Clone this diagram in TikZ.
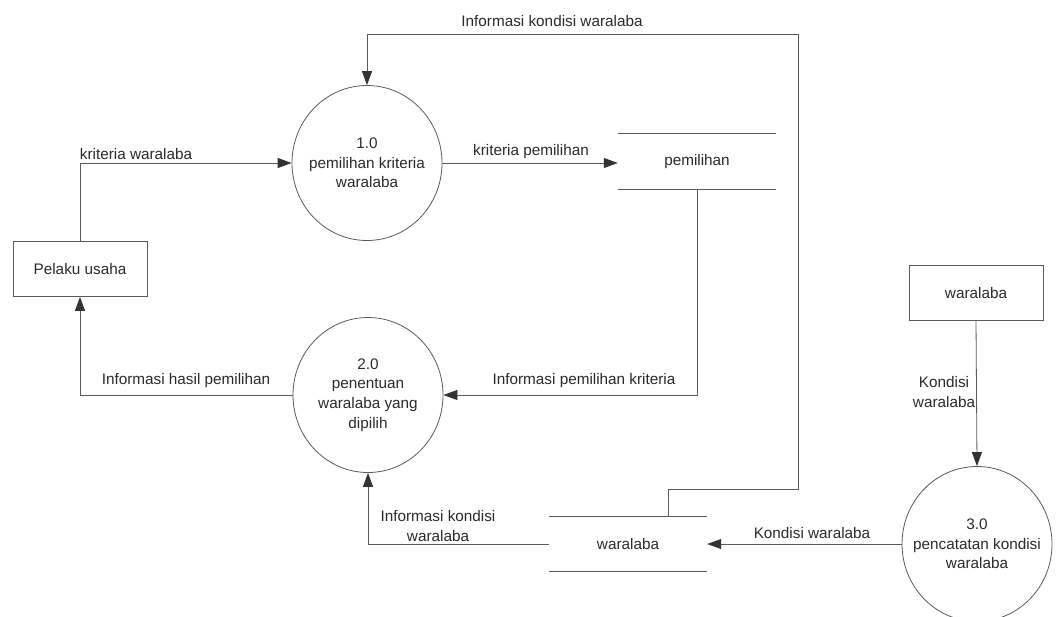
\documentclass[tikz,border=0pt]{standalone}
\usepackage{fontspec}
\setmainfont{Liberation Sans}
\usetikzlibrary{arrows.meta,shapes.geometric}
\definecolor{ink}{HTML}{2A2A2A}
\definecolor{wire}{HTML}{5A5A5A}
\definecolor{tip}{HTML}{333333}
\tikzset{
  txt/.style={font=\fontsize{15.3}{19.6}\selectfont, text=ink, inner sep=0pt, align=center},
  proc/.style={ellipse, draw=wire, line width=0.8pt, inner sep=0pt, minimum width=150pt, minimum height=155pt,
               label={[txt]center:#1}},
  entity/.style={txt, rectangle, draw=wire, line width=0.8pt, minimum width=134pt, minimum height=55pt},
  store/.style={txt, rectangle, minimum width=158pt, minimum height=55pt},
  flow/.style={draw=wire, line width=0.8pt, -{Triangle[length=14pt,width=10pt,color=tip]}},
  plain/.style={draw=wire, line width=0.8pt},
}
\begin{document}
\begin{tikzpicture}[x=1pt,y=-1pt]
\useasboundingbox (0,0) rectangle (1064,616);
\clip (0,0) rectangle (1064,616);

% processes (bubble drawn empty, its caption centred inside)
\node[proc={1.0\\pemilihan kriteria\\waralaba}] (p1) at (367,163) {};
\node[proc={2.0\\penentuan\\waralaba yang\\dipilih}] (p2) at (368,395) {};
\node[proc={3.0\\pencatatan kondisi\\waralaba}] (p3) at (977,544) {};

% external entities
\node[entity] (pelaku) at (80,269) {Pelaku usaha};
\node[entity] (ent2) at (976,293) {waralaba};

% data stores (open-ended: top and bottom lines only)
\node[store] (ds1) at (697,161.5) {pemilihan};
\node[store] (ds2) at (628,544) {waralaba};
\draw[plain] (ds1.north west) -- (ds1.north east) (ds1.south west) -- (ds1.south east);
\draw[plain] (ds2.north west) -- (ds2.north east) (ds2.south west) -- (ds2.south east);

% bend points of the long return flow
\coordinate (c1) at (798,489);
\coordinate (c2) at (798,34);

% data flows
\draw[flow] (pelaku.north) |- (p1.west);
\draw[flow] (p1.east) -- (p1.east -| ds1.west);
\draw[flow] (ds1.south) |- (p2.east);
\draw[flow] (p2.west) -| (pelaku.south);
\draw[flow] ([xshift=40pt]ds2.north) |- (c1) -- (c2) -| (p1.north);
\draw[flow] (ds2.west) -| (p2.south);
\draw[flow] (p3.west) -- (ds2.east);
\draw[flow] (ent2.south) -- (p3.north);

% flow labels
\node[txt] (l1) at (552,21) {Informasi kondisi waralaba};
\node[txt] (l2) at (136,154) {kriteria waralaba};
\node[txt] (l3) at (531,152) {kriteria pemilihan};
\node[txt] (l4) at (186,381) {Informasi hasil pemilihan};
\node[txt] (l5) at (584,381) {Informasi pemilihan kriteria};
\node[txt] (l6) at (438,526) {Informasi kondisi\\waralaba};
\node[txt] (l7) at (812,533) {Kondisi waralaba};
\node[txt] (l8) at (944,392) {Kondisi\\waralaba};
\end{tikzpicture}
\end{document}
